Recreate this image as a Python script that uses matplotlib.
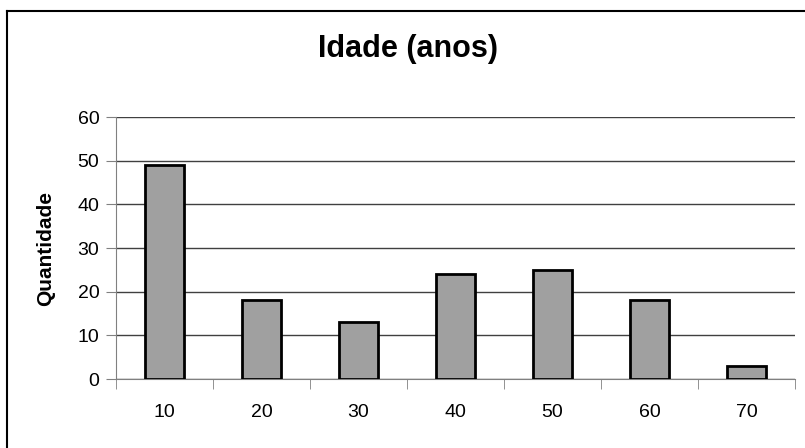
import matplotlib
matplotlib.use("Agg")
import matplotlib.pyplot as plt
from matplotlib.lines import Line2D
import numpy as np

# Idade em faixas e quantidade de pessoas
idades = ["10", "20", "30", "40", "50", "60", "70"]
quantidade = [49, 18, 13, 24, 25, 18, 3]
yticks = [0, 10, 20, 30, 40, 50, 60]

plt.rcParams['font.family'] = ['Liberation Sans', 'DejaVu Sans']

W, H = 805, 448
fig = plt.figure(figsize=(W / 100, H / 100), dpi=100)
# área do gráfico: x 116..795 px, y 117..379 px
ax = fig.add_axes([116 / W, 1 - 379 / H, (795 - 116) / W, (379 - 117) / H])

x = np.arange(len(idades))
ax.bar(x, quantidade, width=0.4, color='#a0a0a0', edgecolor='black', linewidth=2, zorder=3)

ax.set_xlim(-0.5, len(idades) - 0.5)
ax.set_ylim(0, 60)
ax.set_yticks(yticks)
ax.set_xticks(x)
ax.set_xticklabels(idades)
# ticks do eixo x ficam entre as categorias
ax.set_xticks(np.arange(len(idades) + 1) - 0.5, minor=True)
ax.tick_params(axis='x', which='major', length=0, pad=18, labelsize=14)
ax.tick_params(axis='x', which='minor', length=7, direction='out', color='#808080')
ax.tick_params(axis='y', length=7, direction='out', color='#808080', labelsize=14, pad=5)

ax.grid(axis='y', color='#404040', linewidth=1, zorder=0)
for s in ['top', 'right']:
    ax.spines[s].set_visible(False)
ax.spines['left'].set_color('#808080')
ax.spines['bottom'].set_color('#808080')

ax.set_ylabel('Quantidade', fontsize=15, fontweight='bold')
ax.yaxis.set_label_coords((55 - 116) / (795 - 116), 0.5)
fig.text(408 / W, 1 - 49 / H, 'Idade (anos)', ha='center', va='center', fontsize=22, fontweight='bold')

# moldura do gráfico (só as bordas esquerda e superior aparecem)
fig.add_artist(Line2D([7 / W, 7 / W], [0, 1 - 11 / H], color='black', linewidth=1.5))
fig.add_artist(Line2D([7 / W, 1], [1 - 11 / H, 1 - 11 / H], color='black', linewidth=1.5))

fig.savefig('out.png', dpi=100)
